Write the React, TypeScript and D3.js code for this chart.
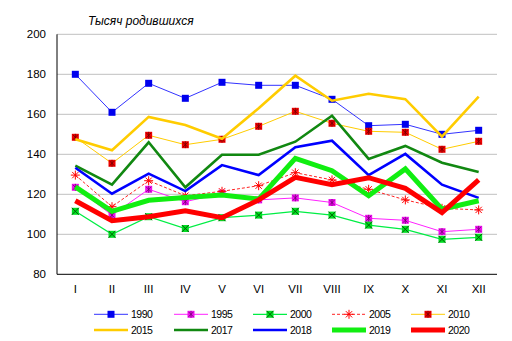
import React from "react";
import * as d3 from "d3";

const months = ["I", "II", "III", "IV", "V", "VI", "VII", "VIII", "IX", "X", "XI", "XII"];
const yTicks = [80, 100, 120, 140, 160, 180, 200];

const v1990 = [180, 161, 175.5, 168, 176, 174.5, 174.5, 167.5, 154.3, 155, 150, 152];
const v1995 = [123.5, 109.6, 122.5, 116.3, 120.5, 117.2, 118.2, 115.9, 108, 107, 101.3, 102.5];
const v2000 = [111.5, 100, 108.8, 102.9, 108.3, 109.6, 111.5, 109.6, 104.6, 102.5, 97.5, 98.5];
const v2005 = [129.6, 113.8, 126.8, 119.3, 121.5, 124.3, 130.8, 127.2, 122.5, 117.2, 113, 112.2];
const v2010 = [148.5, 135.5, 149.5, 144.8, 147.5, 154, 161.5, 155.5, 151.5, 151, 142.5, 146.5];
const v2015 = [147.5, 142, 158.7, 154.6, 147.8, 163, 179.3, 166.8, 170.3, 167.6, 148.8, 168.8];
const v2017 = [134.3, 124.8, 146, 123.5, 139.8, 139.8, 146.3, 159.3, 137.7, 144.2, 135.8, 131.2];
const v2018 = [133.3, 120.3, 130.3, 121.6, 134.6, 129.6, 143.5, 146.8, 129.6, 140.2, 124.8, 118.2];
const v2019 = [123.7, 111.5, 117, 118.4, 119.6, 117.6, 138, 131.8, 119.3, 132.7, 112.5, 116.8];
const v2020 = [116.8, 106.8, 108.8, 111.8, 108.3, 117.2, 128.5, 124.8, 128.3, 123, 110.8, 127.2];

type Marker = "none" | "square" | "squareStar" | "squareX" | "star" | "squarePlus";
interface Series {
  name: string;
  values: number[];
  color: string;
  width: number;
  dash?: string;
  marker: Marker;
  markerFill?: string;
  markerInk?: string;
}

const series: Series[] = [
  { name: "1990", values: v1990, color: "#3333ff", width: 1, marker: "square", markerFill: "#0000ee", markerInk: "#000088" },
  { name: "1995", values: v1995, color: "#ff22ff", width: 1, marker: "squareStar", markerFill: "#ee11ee", markerInk: "#660066" },
  { name: "2000", values: v2000, color: "#00ee44", width: 1.3, marker: "squareX", markerFill: "#00dd22", markerInk: "#005500" },
  { name: "2005", values: v2005, color: "#ff2222", width: 1, dash: "3,2", marker: "star", markerInk: "#ff0000" },
  { name: "2010", values: v2010, color: "#ffcc00", width: 1, marker: "squarePlus", markerFill: "#ee0000", markerInk: "#660000" },
  { name: "2015", values: v2015, color: "#ffcc00", width: 2.6, marker: "none" },
  { name: "2017", values: v2017, color: "#118811", width: 2.6, marker: "none" },
  { name: "2018", values: v2018, color: "#0000ff", width: 2.6, marker: "none" },
  { name: "2019", values: v2019, color: "#11ee11", width: 5, marker: "none" },
  { name: "2020", values: v2020, color: "#ff0000", width: 5, marker: "none" },
];

function MarkerShape({ s, x, y }: { s: Series; x: number; y: number }) {
  const h = 3.5;
  const ink = s.markerInk || "#000";
  if (s.marker === "none") return null;
  if (s.marker === "star") {
    const r = 4.5;
    return (
      <g stroke={ink} strokeWidth={1}>
        <line x1={x - r} y1={y} x2={x + r} y2={y} />
        <line x1={x - r * 0.7} y1={y - r * 0.7} x2={x + r * 0.7} y2={y + r * 0.7} />
        <line x1={x - r * 0.7} y1={y + r * 0.7} x2={x + r * 0.7} y2={y - r * 0.7} />
        <line x1={x} y1={y - r} x2={x} y2={y + r} />
      </g>
    );
  }
  return (
    <g>
      <rect x={x - h} y={y - h} width={h * 2} height={h * 2} fill={s.markerFill} />
      {s.marker === "squareX" && (
        <g stroke={ink} strokeWidth={0.9}>
          <line x1={x - h} y1={y - h} x2={x + h} y2={y + h} />
          <line x1={x - h} y1={y + h} x2={x + h} y2={y - h} />
        </g>
      )}
      {(s.marker === "squareStar" || s.marker === "squarePlus") && (
        <g stroke={ink} strokeWidth={0.7}>
          <line x1={x} y1={y - h} x2={x} y2={y + h} />
          <line x1={x - h * 0.7} y1={y - h * 0.7} x2={x + h * 0.7} y2={y + h * 0.7} />
          <line x1={x - h * 0.7} y1={y + h * 0.7} x2={x + h * 0.7} y2={y - h * 0.7} />
        </g>
      )}
    </g>
  );
}

export default function App() {
  const W = 512;
  const H = 341;
  const left = 57;
  const right = 497;
  const top = 34.3;
  const bottom = 274.3;

  const x = d3.scaleBand<string>().domain(months).range([left, right]);
  const y = d3.scaleLinear().domain([80, 200]).range([bottom, top]);
  const cx = (m: string) => (x(m) as number) + x.bandwidth() / 2;

  const lineGen = (vals: number[]) =>
    d3
      .line<number>()
      .x((_, i) => cx(months[i]))
      .y((v) => y(v))(vals) as string;

  const font = "Arial, 'Liberation Sans', sans-serif";
  const legendX = [94, 174, 253, 332, 411];
  const legendY = [314.3, 330];

  return (
    <svg
      width={W}
      height={H}
      style={{ position: "absolute", left: 0, top: 0, background: "#fff" }}
      fontFamily={font}
    >
      <rect x={0} y={0} width={W} height={H} fill="#fff" />
      <text x={88} y={25} fontSize={12} fontStyle="italic" fill="#000">
        Тысяч родившихся
      </text>
      {yTicks.map((t) => (
        <g key={t}>
          {t > 80 && (
            <line x1={left} x2={right} y1={y(t)} y2={y(t)} stroke="#c0c0c0" strokeWidth={1} />
          )}
          <text x={46} y={y(t) + 4} fontSize={11.5} textAnchor="end" fill="#000">
            {t}
          </text>
        </g>
      ))}
      <line x1={left} x2={left} y1={top} y2={bottom} stroke="#000" strokeWidth={1} />
      <line x1={left} x2={right} y1={bottom} y2={bottom} stroke="#000" strokeWidth={1} />
      {months.map((m) => (
        <text key={m} x={cx(m)} y={293} fontSize={11.5} textAnchor="middle" fill="#000">
          {m}
        </text>
      ))}
      {series.map((s) => (
        <g key={s.name}>
          <path
            d={lineGen(s.values)}
            fill="none"
            stroke={s.color}
            strokeWidth={s.width}
            strokeDasharray={s.dash}
            strokeLinejoin="miter"
          />
          {s.values.map((v, i) => (
            <MarkerShape key={i} s={s} x={cx(months[i])} y={y(v)} />
          ))}
        </g>
      ))}
      {series.map((s, i) => {
        const lx = legendX[i % 5];
        const ly = legendY[Math.floor(i / 5)];
        return (
          <g key={"lg" + s.name}>
            <line
              x1={lx}
              x2={lx + 34}
              y1={ly}
              y2={ly}
              stroke={s.color}
              strokeWidth={s.width}
              strokeDasharray={s.dash}
            />
            <MarkerShape s={s} x={lx + 17} y={ly} />
            <text x={lx + 37} y={ly + 3.8} fontSize={10.5} fill="#000" letterSpacing={-0.5}>
              {s.name}
            </text>
          </g>
        );
      })}
    </svg>
  );
}
